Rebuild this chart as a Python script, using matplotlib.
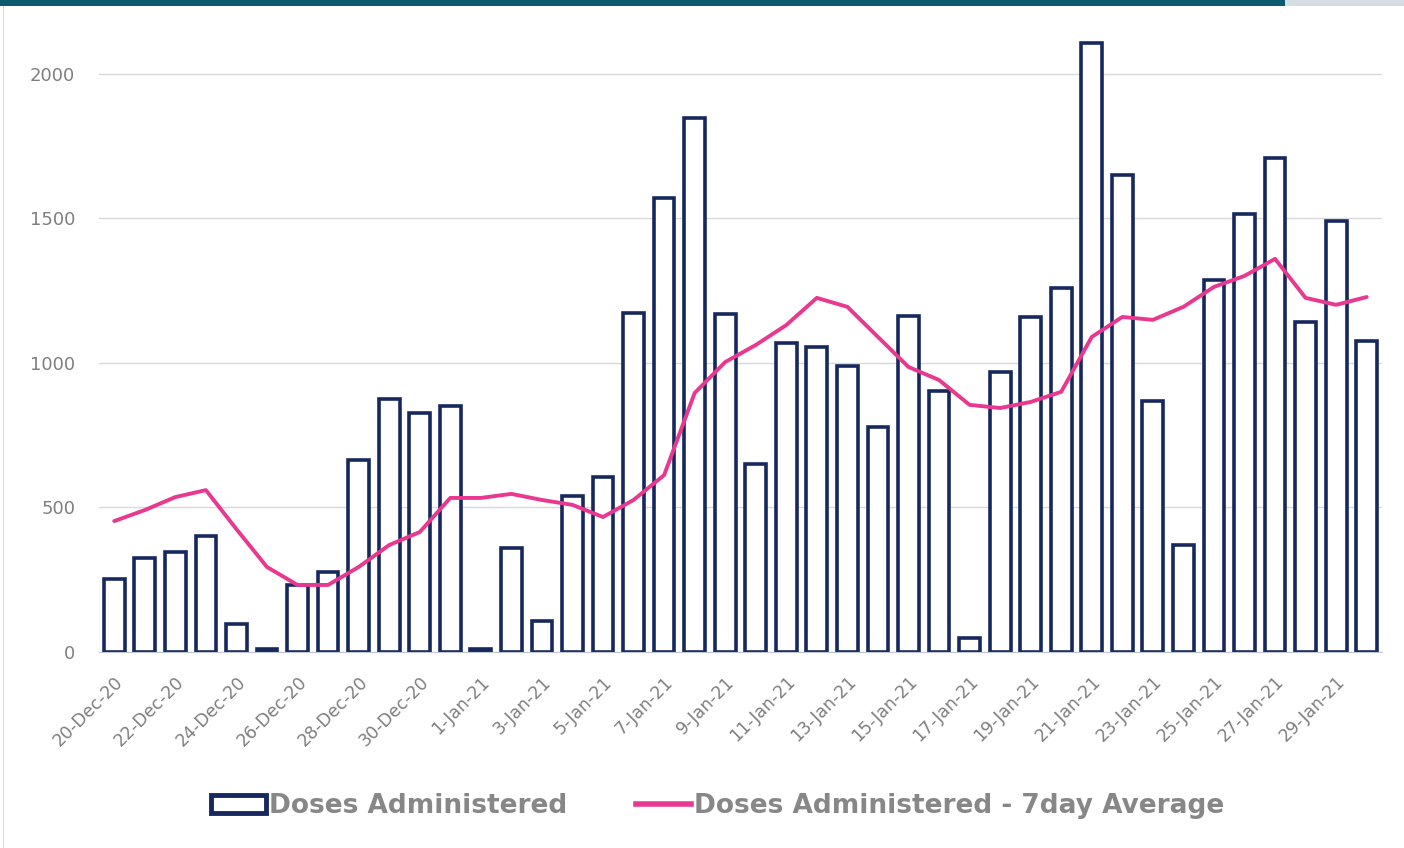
import numpy as np
import matplotlib
matplotlib.use("Agg")
import matplotlib.pyplot as plt
from matplotlib.patches import Rectangle
from matplotlib.lines import Line2D

# daily doses, 20-Dec-20 .. 30-Jan-21
dates = (["%d-Dec-20" % d for d in range(20, 32)] +
         ["%d-Jan-21" % d for d in range(1, 31)])
doses = [253, 325, 346, 401, 97, 10, 232, 277, 664, 875, 827, 851,
         10, 360, 107, 540, 606, 1173, 1571, 1848, 1170, 650, 1069, 1055,
         990, 779, 1163, 903, 48, 969, 1159, 1260, 2107, 1650, 869, 370,
         1287, 1516, 1709, 1142, 1491, 1076]
avg7 = [453, 491, 536, 560, 425, 294, 232, 232, 294, 370, 415, 533,
        533, 547, 526, 509, 467, 526, 612, 896, 1003, 1062, 1131, 1225,
        1194, 1090, 986, 941, 855, 844, 865, 900, 1090, 1159, 1149, 1194,
        1263, 1301, 1360, 1225, 1201, 1228]

navy = '#16285E'
pink = '#E8388F'
grey_txt = '#7F7F7F'

fig = plt.figure(figsize=(14.04, 8.48), dpi=100)
ax = fig.add_axes([0.0705, 0.2311, 0.9138, 0.75])

x = np.arange(len(dates))
ax.bar(x, doses, width=0.68, facecolor='white', edgecolor=navy, linewidth=2.6, zorder=2)
ax.plot(x, avg7, color=pink, linewidth=2.8, zorder=3, solid_capstyle='round')

ax.set_xlim(-0.5, len(dates) - 0.5)
ax.set_ylim(0, 2200)
ax.set_yticks([0, 500, 1000, 1500, 2000])
ax.yaxis.grid(True, color='#D9D9D9', linewidth=1)
ax.set_axisbelow(True)
for s in ['top', 'right', 'left']:
    ax.spines[s].set_visible(False)
ax.spines['bottom'].set_color('#BFC7D5')
ax.tick_params(axis='both', length=0, colors=grey_txt)
ax.tick_params(axis='y', labelsize=13, pad=17)
ax.set_xticks(x[::2])
ax.set_xticklabels(dates[::2], rotation=45, ha='right', rotation_mode='anchor',
                   fontsize=12.5, color=grey_txt)
ax.tick_params(axis='x', pad=15)

handles = [Rectangle((0, 0), 1, 1, facecolor='white', edgecolor=navy, linewidth=3.5),
           Line2D([0], [0], color=pink, linewidth=4)]
leg = fig.legend(handles, ['Doses Administered', 'Doses Administered - 7day Average'],
                 loc='center', bbox_to_anchor=(0.511, 0.049), ncol=2, frameon=False,
                 handlelength=2.1, handletextpad=0.1, columnspacing=2.6,
                 prop={'size': 19, 'weight': 'bold'})
for t in leg.get_texts():
    t.set_color('#878787')

# frame decoration from the source page
fig.patches.append(Rectangle((0, 0.9935), 0.915, 0.0065, transform=fig.transFigure,
                             facecolor='#0D5A70', edgecolor='none'))
fig.patches.append(Rectangle((0.915, 0.9935), 0.085, 0.0065, transform=fig.transFigure,
                             facecolor='#D5DDE2', edgecolor='none'))
fig.patches.append(Rectangle((0.002, 0), 0.0012, 0.9935, transform=fig.transFigure,
                             facecolor='#D9D9D9', edgecolor='none'))

fig.savefig('out.png', dpi=100)
